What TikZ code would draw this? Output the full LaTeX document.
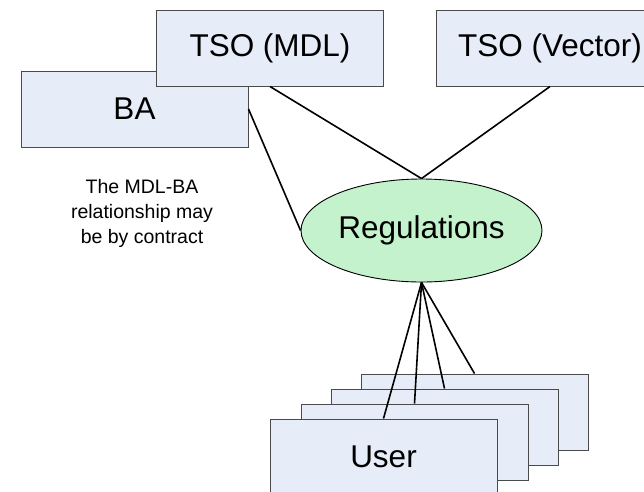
\documentclass[tikz,border=0pt]{standalone}
\usepackage{fontspec}
\setmainfont{Liberation Sans}
\usetikzlibrary{shapes.geometric}
\definecolor{boxfill}{HTML}{E6ECF8}
\definecolor{boxline}{HTML}{4A4A4A}
\definecolor{regfill}{HTML}{C4F2CC}
\tikzset{
  party/.style={draw=boxline, line width=1pt, fill=boxfill, minimum width=227pt,
    minimum height=76pt, inner sep=0pt, font=\fontsize{31.5}{36}\selectfont},
  regnode/.style={ellipse, draw=black, line width=0.9pt, fill=regfill, minimum width=241pt,
    minimum height=103pt, inner sep=0pt, font=\fontsize{31.5}{36}\selectfont},
  link/.style={draw=black, line width=1.6pt},
  note/.style={align=center, font=\fontsize{19.5}{25}\selectfont}
}
\begin{document}
\begin{tikzpicture}[x=1pt, y=-1pt]
  \useasboundingbox (0,0) rectangle (644,491);
  \clip (0,0) rectangle (644,491);

  % parties at the top
  \node[party] (ba) at (134.5,109) {BA};
  \node[party] (mdl) at (270,48) {TSO (MDL)};
  \node[party] (vec) at (550,48) {TSO (Vector)};

  % regulations in the middle
  \node[regnode] (reg) at (421.5,230.5) {Regulations};

  \node[note] (remark) at (142,213) {The MDL-BA\\relationship may\\be by contract};

  % stack of users, back to front
  \node[party] (u4) at (474.5,412) {};
  \node[party] (u3) at (444.5,427) {};
  \node[party] (u2) at (414.5,442) {};
  \node[party] (u1) at (383.5,457) {User};

  % connectors
  \draw[link] (mdl.south) -- (reg.north);
  \draw[link] (vec.south) -- (reg.north);
  \draw[link] (ba.east) -- (reg.west);
  \draw[link] (reg.south) -- (u1.north);
  \draw[link] (reg.south) -- (u2.north);
  \draw[link] (reg.south) -- (u3.north);
  \draw[link] (reg.south) -- (u4.north);
\end{tikzpicture}
\end{document}
